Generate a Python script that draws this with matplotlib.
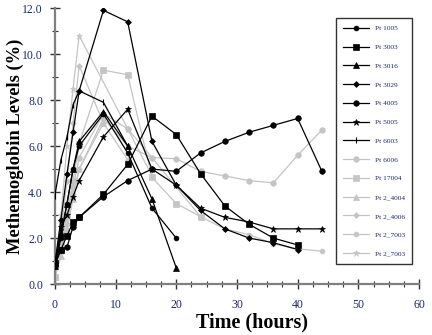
import matplotlib
matplotlib.use("Agg")
import matplotlib.pyplot as plt
from matplotlib.ticker import MultipleLocator, FormatStrFormatter

# ---- data (time in hours, methemoglobin %) ----
t_full = [0, 1, 2, 3, 4, 8, 12, 16, 20, 24, 28, 32, 36, 40, 44]

pt1005_t = [0, 1, 2, 3, 4, 8, 12, 16, 20]
pt1005_v = [0.8, 2.0, 3.5, 5.0, 6.0, 7.4, 5.7, 3.3, 2.0]

pt3003_t = [0, 1, 2, 3, 4, 8, 12, 16, 20, 24, 28, 32, 36, 40]
pt3003_v = [0.9, 1.5, 2.1, 2.7, 2.9, 3.9, 5.2, 7.3, 6.5, 4.8, 3.4, 2.6, 2.0, 1.7]

pt3016_t = [0, 1, 2, 3, 4, 8, 12, 16, 20]
pt3016_v = [0.8, 2.2, 3.5, 5.0, 6.2, 7.5, 6.0, 3.7, 0.7]

pt3029_t = [0, 1, 2, 3, 4, 8, 12, 16, 20, 24, 28, 32, 36, 40]
pt3029_v = [0.9, 2.8, 4.8, 6.6, 8.4, 11.9, 11.4, 6.2, 4.3, 3.2, 2.4, 2.0, 1.8, 1.5]

pt4005_t = t_full
pt4005_v = [0.8, 1.5, 1.6, 2.5, 2.9, 3.8, 4.5, 5.0, 4.9, 5.7, 6.2, 6.6, 6.9, 7.2, 4.9]

pt5005_t = t_full
pt5005_v = [0.8, 2.5, 3.0, 3.8, 4.5, 6.4, 7.6, 5.0, 4.3, 3.3, 2.9, 2.7, 2.4, 2.4, 2.4]

pt6003_t = [0, 1, 2, 3, 4, 8, 12]
pt6003_v = [3.85, 5.4, 6.4, 7.8, 8.4, 7.9, 6.0]

pt6006_t = t_full
pt6006_v = [0.3, 1.6, 2.9, 4.2, 5.5, 7.4, 6.75, 5.5, 5.45, 4.9, 4.7, 4.5, 4.4, 5.6, 6.7]

pt17004_t = [0, 1, 2, 3, 4, 8, 12, 16, 20, 24]
pt17004_v = [0.3, 1.8, 3.0, 4.5, 6.1, 9.3, 9.1, 4.64, 3.5, 2.93]

pt2_4004_t = [0, 1, 2, 3, 4, 8]
pt2_4004_v = [0.3, 1.2, 2.4, 3.7, 5.0, 7.0]

pt2_4006_t = [0, 1, 2, 3, 4, 8, 12]
pt2_4006_v = [0.3, 2.2, 4.5, 7.0, 9.5, 7.0, 5.4]

pt2_7003a_t = [0, 1, 2, 3, 4, 8, 12, 16, 24, 28, 32, 36, 40, 44]
pt2_7003a_v = [0.3, 1.4, 2.6, 3.9, 5.0, 7.2, 6.0, 5.5, 2.93, 2.4, 2.15, 1.75, 1.53, 1.43]

pt2_7003b_t = [0, 1, 2, 3, 4, 12, 16]
pt2_7003b_v = [0.3, 3.0, 6.0, 8.5, 10.8, 6.75, 4.7]

BLACK = "black"
GRAY = "#c4c4c4"
TXT = "#1a2a6c"

series = [
    ("Pt 1005", pt1005_t, pt1005_v, BLACK, "o", 3.5),
    ("Pt 3003", pt3003_t, pt3003_v, BLACK, "s", 4),
    ("Pt 3016", pt3016_t, pt3016_v, BLACK, "^", 4),
    ("Pt 3029", pt3029_t, pt3029_v, BLACK, "D", 3),
    ("Pt 4005", pt4005_t, pt4005_v, BLACK, "o", 4),
    ("Pt 5005", pt5005_t, pt5005_v, BLACK, "*", 5),
    ("Pt 6003", pt6003_t, pt6003_v, BLACK, "|", 5),
    ("Pt 6006", pt6006_t, pt6006_v, GRAY, "o", 4),
    ("Pt 17004", pt17004_t, pt17004_v, GRAY, "s", 4),
    ("Pt 2_4004", pt2_4004_t, pt2_4004_v, GRAY, "^", 4),
    ("Pt 2_4006", pt2_4006_t, pt2_4006_v, GRAY, "D", 3),
    ("Pt 2_7003", pt2_7003a_t, pt2_7003a_v, GRAY, "o", 3.5),
    ("Pt 2_7003", pt2_7003b_t, pt2_7003b_v, GRAY, "*", 5),
]

plt.rcParams["font.family"] = ["Liberation Serif", "DejaVu Serif"]

fig = plt.figure(figsize=(4.32, 3.35), dpi=100)
ax = fig.add_axes([0.127, 0.152, 0.843, 0.824])

# gray ones underneath, black on top
for label, t, v, col, mk, ms in series:
    z = 2 if col == GRAY else 3
    ax.plot(t, v, color=col, marker=mk, markersize=ms, linewidth=0.9,
            markeredgewidth=0.8 if mk == "|" else 0.5, label=label, zorder=z)

ax.set_xlim(0, 60)
ax.set_ylim(0, 12)
ax.xaxis.set_major_locator(MultipleLocator(10))
ax.xaxis.set_minor_locator(MultipleLocator(2.5))
ax.yaxis.set_major_locator(MultipleLocator(2))
ax.yaxis.set_minor_locator(MultipleLocator(1))
ax.yaxis.set_major_formatter(FormatStrFormatter("%.1f"))

for side in ["top", "right"]:
    ax.spines[side].set_visible(False)
for side in ["left", "bottom"]:
    ax.spines[side].set_color("#808080")
    ax.spines[side].set_linewidth(1.6)
ax.tick_params(which="major", direction="inout", length=7, width=1.0,
               colors="#333333", labelsize=8.5, labelcolor=TXT)
ax.tick_params(axis="x", which="major", pad=7)
ax.tick_params(axis="y", which="major", pad=5)
ax.tick_params(which="minor", direction="inout", length=5, width=0.8, colors="#333333")

ax.set_xlabel("Time (hours)", fontsize=14.5, fontweight="bold")
ax.xaxis.set_label_coords(0.541, -0.102)
ax.set_ylabel("Methemoglobin Levels (%)", fontsize=13.3, fontweight="bold")
ax.yaxis.set_label_coords(-0.085, 0.5)

leg = ax.legend(loc="upper right", bbox_to_anchor=(0.981, 0.964), fontsize=5.3,
                frameon=True, fancybox=False, edgecolor="black", handlelength=3.5,
                labelspacing=1.71, borderpad=1.0, handletextpad=0.8, borderaxespad=0.0)
leg.get_frame().set_linewidth(1.0)
for txt in leg.get_texts():
    txt.set_color(TXT)

fig.savefig("out.png", dpi=100)
